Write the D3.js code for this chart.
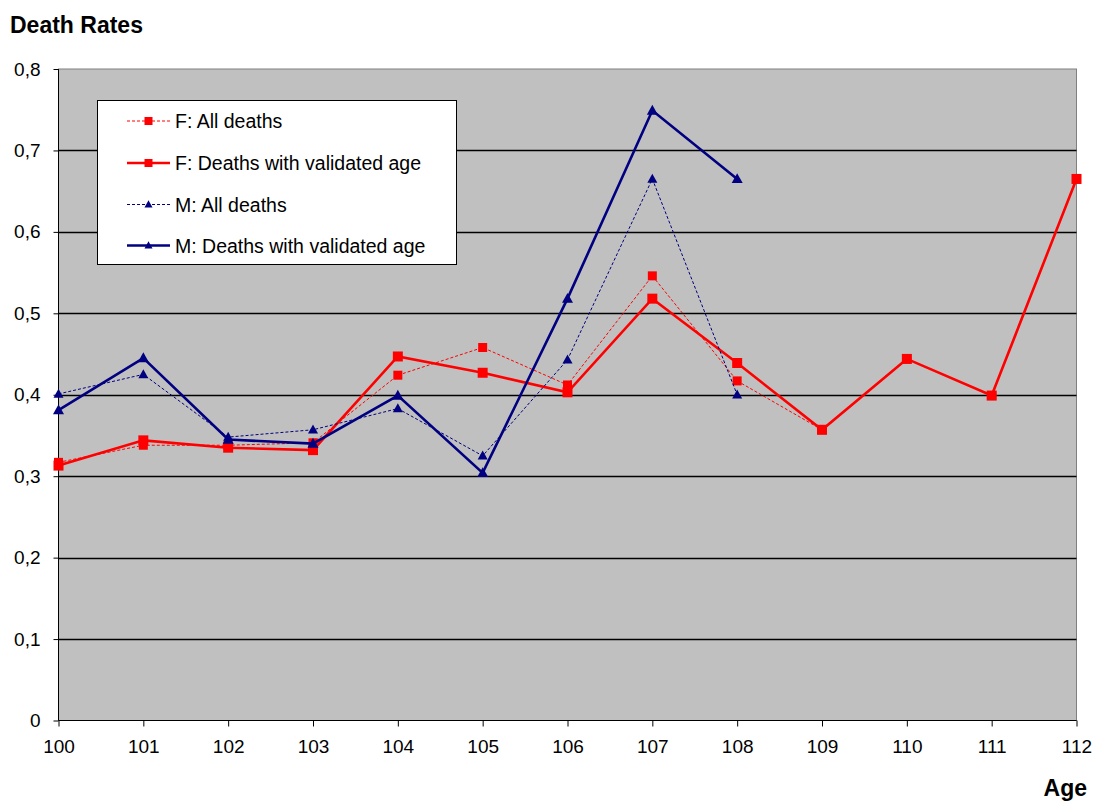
<!DOCTYPE html>
<html>
<head>
<meta charset="utf-8">
<script src="https://cdn.jsdelivr.net/npm/d3@7"></script>
<style>
  html, body { margin: 0; padding: 0; background: #fff; }
  svg { display: block; font-family: "Liberation Sans", Arial, sans-serif; }
</style>
</head>
<body>
<svg id="chart" width="1096" height="804"></svg>
<script>
// Ages on the horizontal axis
const ages = [100, 101, 102, 103, 104, 105, 106, 107, 108, 109, 110, 111, 112];

// Death rates by age (null = no value)
const fAll       = [0.317, 0.338, 0.338, 0.341, 0.424, 0.458, 0.412, 0.546, 0.417, 0.357, 0.444, 0.399, 0.665];
const fValidated = [0.313, 0.344, 0.335, 0.332, 0.447, 0.427, 0.403, 0.518, 0.439, 0.357, 0.444, 0.399, 0.665];
const mAll       = [0.401, 0.425, 0.348, 0.357, 0.383, 0.325, 0.443, 0.665, 0.400, null, null, null, null];
const mValidated = [0.381, 0.445, 0.345, 0.340, 0.399, 0.304, 0.518, 0.749, 0.665, null, null, null, null];

const yTicks = [0, 0.1, 0.2, 0.3, 0.4, 0.5, 0.6, 0.7, 0.8];
const yTickLabels = ["0", "0,1", "0,2", "0,3", "0,4", "0,5", "0,6", "0,7", "0,8"];

const seriesNames = ["F: All deaths", "F: Deaths with validated age", "M: All deaths", "M: Deaths with validated age"];

const series = [
  { name: seriesNames[0], values: fAll,       color: "#ff0000", width: 1,   dash: "3,2", marker: "square",   size: 9 },
  { name: seriesNames[1], values: fValidated, color: "#ff0000", width: 2.6, dash: null,  marker: "square",   size: 10 },
  { name: seriesNames[2], values: mAll,       color: "#000080", width: 1,   dash: "3,2", marker: "triangle", size: 10 },
  { name: seriesNames[3], values: mValidated, color: "#000080", width: 2.6, dash: null,  marker: "triangle", size: 11 }
];

const svg = d3.select("#chart");
const plot = { left: 58.5, right: 1076.5, top: 69, bottom: 720.5 };

const x = d3.scaleLinear().domain([100, 112]).range([plot.left, plot.right]);
const y = d3.scaleLinear().domain([0, 0.8]).range([plot.bottom, plot.top]);

// Plot background
svg.append("rect")
  .attr("x", plot.left).attr("y", plot.top)
  .attr("width", plot.right - plot.left).attr("height", plot.bottom - plot.top)
  .attr("fill", "#c0c0c0")
  .attr("stroke", "#808080").attr("stroke-width", 1);

// Horizontal gridlines
svg.append("g")
  .selectAll("line")
  .data(yTicks.filter(v => v > 0 && v < 0.8))
  .join("line")
  .attr("x1", plot.left).attr("x2", plot.right)
  .attr("y1", d => Math.round(y(d)) + 0.5).attr("y2", d => Math.round(y(d)) + 0.5)
  .attr("stroke", "#000").attr("stroke-width", 1.3);

// Y axis
const yAxis = d3.axisLeft(y)
  .tickValues(yTicks)
  .tickFormat((d, i) => yTickLabels[i])
  .tickSize(5)
  .tickPadding(13);
const gy = svg.append("g").attr("transform", `translate(${plot.left},0)`).call(yAxis);
gy.select(".domain").attr("stroke", "#000").attr("d", `M0,${plot.top}V${plot.bottom}`);
gy.selectAll(".tick line").attr("stroke", "#000");
gy.selectAll(".tick text").attr("font-size", 19).attr("fill", "#000")
  .attr("font-family", "'Liberation Sans', Arial, sans-serif");

// X axis
const xAxis = d3.axisBottom(x)
  .tickValues(ages)
  .tickFormat(d3.format("d"))
  .tickSize(6)
  .tickPadding(13);
const gx = svg.append("g").attr("transform", `translate(0,${plot.bottom})`).call(xAxis);
gx.select(".domain").attr("stroke", "#000").attr("d", `M${plot.left},0H${plot.right}`);
gx.selectAll(".tick line").attr("stroke", "#000");
gx.selectAll(".tick text").attr("font-size", 19).attr("fill", "#000")
  .attr("font-family", "'Liberation Sans', Arial, sans-serif");

// Axis titles
svg.append("text").attr("x", 10).attr("y", 33)
  .attr("font-size", 23).attr("font-weight", "bold").attr("fill", "#000")
  .text("Death Rates");
svg.append("text").attr("x", 1087).attr("y", 796)
  .attr("text-anchor", "end")
  .attr("font-size", 23).attr("font-weight", "bold").attr("fill", "#000")
  .text("Age");

// Marker paths
function markerPath(type, s) {
  const h = s / 2;
  if (type === "square") return `M${-h},${-h}H${h}V${h}H${-h}Z`;
  return `M0,${-h * 1.05}L${h},${h * 0.75}L${-h},${h * 0.75}Z`;
}

const line = d3.line()
  .defined(d => d.v !== null)
  .x(d => x(d.age))
  .y(d => y(d.v));

series.forEach(s => {
  const pts = ages.map((a, i) => ({ age: a, v: s.values[i] }));
  const g = svg.append("g");
  g.append("path")
    .datum(pts)
    .attr("d", line)
    .attr("fill", "none")
    .attr("stroke", s.color)
    .attr("stroke-width", s.width)
    .attr("stroke-dasharray", s.dash)
    .attr("stroke-linejoin", "miter");
  g.selectAll("path.mk")
    .data(pts.filter(d => d.v !== null))
    .join("path")
    .attr("class", "mk")
    .attr("d", markerPath(s.marker, s.size))
    .attr("transform", d => `translate(${x(d.age)},${y(d.v)})`)
    .attr("fill", s.color);
});

// Legend
const legend = svg.append("g");
legend.append("rect")
  .attr("x", 97.5).attr("y", 100.5).attr("width", 359).attr("height", 164)
  .attr("fill", "#fff").attr("stroke", "#000").attr("stroke-width", 1);

const legendRows = [121, 163, 204.5, 245.5];
series.forEach((s, i) => {
  const ly = legendRows[i];
  const row = legend.append("g");
  row.append("line")
    .attr("x1", 127).attr("x2", 170)
    .attr("y1", ly).attr("y2", ly)
    .attr("stroke", s.color)
    .attr("stroke-width", s.dash ? 1 : 2.6)
    .attr("stroke-dasharray", s.dash);
  row.append("path")
    .attr("d", markerPath(s.marker, 8))
    .attr("transform", `translate(148.5,${ly})`)
    .attr("fill", s.color);
  row.append("text")
    .attr("x", 175).attr("y", ly + 7)
    .attr("font-size", 19.5).attr("fill", "#000")
    .text(s.name);
});
</script>
</body>
</html>
